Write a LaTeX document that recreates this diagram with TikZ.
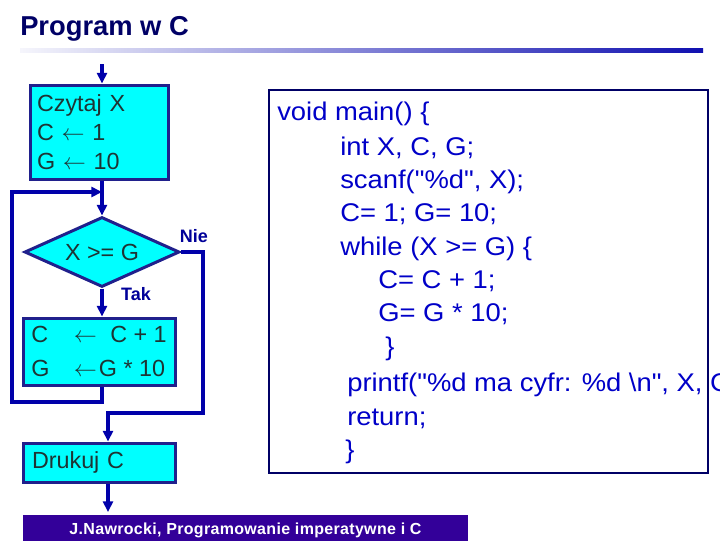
\documentclass[tikz,border=0pt]{standalone}
\usepackage{fontspec}
\setmainfont{Liberation Sans}
\newfontfamily\codefont[FakeStretch=1.07]{Liberation Sans}
\newfontfamily\footfont[LetterSpace=2]{Liberation Sans}
\usepackage{tikz}
\usetikzlibrary{shapes,arrows.meta}
\definecolor{titleblue}{RGB}{0,0,102}
\definecolor{rulerblue}{RGB}{16,16,176}
\definecolor{boxnavy}{RGB}{32,32,140}
\definecolor{boxcyan}{RGB}{0,255,255}
\definecolor{lineblue}{RGB}{0,0,170}
\definecolor{flowtext}{RGB}{30,52,52}
\definecolor{labelblue}{RGB}{0,0,153}
\definecolor{codeblue}{RGB}{0,0,200}
\definecolor{footpurple}{RGB}{51,0,153}
\tikzstyle{node_box} = [rectangle, draw=boxnavy, line width=2.25pt, fill=boxcyan, inner ysep=0pt, align=left, text=flowtext]
\tikzstyle{node_test} = [diamond, draw=boxnavy, line width=2.25pt, fill=boxcyan, aspect=2.2, inner sep=0pt, minimum width=116.25pt, minimum height=52.5pt, text=flowtext, font=\fontsize{17.5}{21}\selectfont]
\tikzstyle{node_label} = [inner sep=0pt, text=labelblue, font=\bfseries\fontsize{13.5}{16}\selectfont]
\tikzstyle{node_code} = [anchor=base west, inner sep=0pt, text=codeblue, font=\codefont\fontsize{19.2}{23}\selectfont]
\tikzstyle{edge_flow} = [draw=lineblue, line width=3pt]
\tikzstyle{edge_arrow} = [edge_flow, -{Triangle[length=8pt,width=7.5pt]}]

\begin{document}
\begin{tikzpicture}[x=0.75pt, y=-0.75pt]
			\useasboundingbox (0,0) rectangle (720,540);
			\node (TITLE) at (20,35) [anchor=base west, inner sep=0pt, text=titleblue, font=\bfseries\fontsize{20.5}{24}\selectfont] {Program w C};
			\shade[left color=rulerblue!4, right color=rulerblue] (20,48) rectangle (703,52);

			% flowchart
			\coordinate (TOP) at (102,64);
			\coordinate (JOIN) at (102,192);
			\coordinate (BACK) at (12,402);
			\coordinate (RIGHT) at (203,413);
			\coordinate (END) at (108,512);
			\node (IN) at (99,132) [node_box, minimum width=103.5pt, minimum height=70.5pt, inner xsep=5.25pt, text width=93pt, font=\fontsize{17.5}{22}\selectfont] {Czytaj X\\C $\leftarrow$ 1\\G $\leftarrow$ 10};
			\node (TEST) at (102,252) [node_test] {X >= G};
			\node (STEP) at (99,351.5) [node_box, minimum width=114pt, minimum height=50.25pt, inner xsep=0pt, font=\fontsize{17.5}{25.5}\selectfont] {\makebox[32pt][l]{C}$\leftarrow$\hspace{10pt}C + 1\\\makebox[32pt][l]{G}$\leftarrow$\hspace{1.5pt}G * 10};
			\node (OUT) at (99,462.5) [node_box, minimum width=114pt, minimum height=29.25pt, inner xsep=6.75pt, text width=100.5pt, font=\fontsize{17.5}{21}\selectfont] {Drukuj C};
			\node (NIE) at (194,236) [node_label] {Nie};
			\node (TAK) at (136,294) [node_label] {Tak};

			\draw[edge_arrow] (TOP) -- (TOP |- IN.north);
			\draw[edge_flow] (IN.south -| TOP) -- (JOIN);
			\draw[edge_arrow] (JOIN) -- (TEST.north);
			\draw[edge_arrow] (TEST.south) -- (TEST.south |- STEP.north);
			\draw[edge_arrow] (STEP.south -| JOIN) |- (BACK) |- (JOIN);
			\draw[edge_arrow] (TEST.east) -| (RIGHT) -| (END |- OUT.north);
			\draw[edge_arrow] (OUT.south -| END) -- (END);

			% program text
			\node (CODE) at (488.5,281.5) [rectangle, draw=titleblue, line width=1.5pt, minimum width=329.25pt, minimum height=287.25pt] {};
			\node (L1) at (277,120) [node_code] {void main() \{};
			\node (L2) at (340,155) [node_code] {int X, C, G;};
			\node (L3) at (340,188) [node_code] {scanf("\%d", X);};
			\node (L4) at (340,221) [node_code] {C= 1; G= 10;};
			\node (L5) at (340,255) [node_code] {while (X >= G) \{};
			\node (L6) at (378,288) [node_code] {C= C + 1;};
			\node (L7) at (378,321) [node_code] {G= G * 10;};
			\node (L8) at (385,355) [node_code] {\}};
			\node (L9) at (347,391) [node_code] {printf("\%d ma cyfr: \%d \textbackslash n", X, C);};
			\node (L10) at (347,425) [node_code] {return;};
			\node (L11) at (345,458) [node_code] {\}};

			% footer
			\node (FOOT) at (245.5,530) [rectangle, fill=footpurple, minimum width=333.75pt, minimum height=22.5pt, text=white, font=\footfont\bfseries\fontsize{12}{14}\selectfont] {J.Nawrocki, Programowanie imperatywne i C};
		\end{tikzpicture}
\end{document}
